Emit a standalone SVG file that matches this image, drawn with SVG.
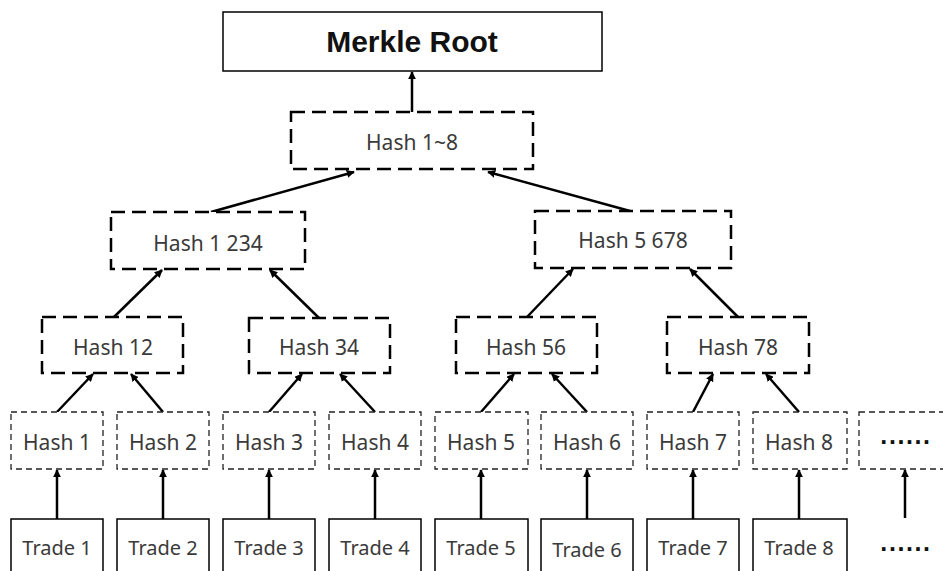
<svg xmlns="http://www.w3.org/2000/svg" width="943" height="571" viewBox="0 0 943 571">
<defs>
<marker id="ah" viewBox="0 0 10 10" refX="9" refY="5" markerWidth="3.2" markerHeight="3.2" markerUnits="strokeWidth" orient="auto">
<path d="M0,0 L10,5 L0,10 z" fill="#000"/>
</marker>
<style>
.big{fill:#fff;stroke:#000;stroke-width:2.5;stroke-dasharray:14 7}
.leaf{fill:#fff;stroke:#222;stroke-width:1.3;stroke-dasharray:6 4}
.solid{fill:#fff;stroke:#000;stroke-width:1.5}
.t{font-family:"Noto Sans","Liberation Sans",sans-serif;font-weight:400;fill:#3a3a3a;text-anchor:middle}
.h{font-size:21px}
.tr{font-size:20px}
.dots{font-family:"Liberation Sans",sans-serif;font-weight:bold;font-size:25px;fill:#111;text-anchor:middle;letter-spacing:1.6px}
.c{stroke:#000;stroke-width:2.5;fill:none;marker-end:url(#ah)}
</style>
</defs>
<rect width="943" height="571" fill="#fff"/>
<g id="connectors">
<line class="c" x1="412" y1="112" x2="412" y2="72"/>
<line class="c" x1="211" y1="212" x2="354" y2="172"/>
<line class="c" x1="630" y1="211" x2="488" y2="172"/>
<line class="c" x1="114" y1="317" x2="162" y2="270"/>
<line class="c" x1="319" y1="318" x2="270" y2="270"/>
<line class="c" x1="527" y1="317" x2="573" y2="269"/>
<line class="c" x1="738" y1="317" x2="690" y2="269"/>
<line class="c" x1="57" y1="412" x2="93" y2="374"/>
<line class="c" x1="163" y1="412" x2="131" y2="374"/>
<line class="c" x1="269" y1="412" x2="302" y2="374"/>
<line class="c" x1="375" y1="412" x2="340" y2="374"/>
<line class="c" x1="481" y1="412" x2="514" y2="374"/>
<line class="c" x1="587" y1="412" x2="552" y2="374"/>
<line class="c" x1="693" y1="412" x2="713" y2="374"/>
<line class="c" x1="799" y1="412" x2="766" y2="374"/>
<line class="c" x1="57" y1="519" x2="57" y2="470"/>
<line class="c" x1="163" y1="519" x2="163" y2="470"/>
<line class="c" x1="269" y1="519" x2="269" y2="470"/>
<line class="c" x1="375" y1="519" x2="375" y2="470"/>
<line class="c" x1="481" y1="519" x2="481" y2="470"/>
<line class="c" x1="587" y1="519" x2="587" y2="470"/>
<line class="c" x1="693" y1="519" x2="693" y2="470"/>
<line class="c" x1="799" y1="519" x2="799" y2="470"/>
<line class="c" x1="905" y1="518" x2="905" y2="470"/>
</g>
<g id="merkle-root">
<rect class="solid" x="223" y="12" width="379" height="59"/>
<text x="412" y="52" font-family="'Liberation Sans',sans-serif" font-weight="bold" font-size="30" fill="#111" text-anchor="middle">Merkle Root</text>
</g>
<g id="hash-1-8">
<rect class="big" x="291" y="112" width="242" height="57"/>
<text class="t h" x="412" y="150">Hash 1~8</text>
</g>
<g id="hash-1234">
<rect class="big" x="111" y="212" width="194" height="57"/>
<text class="t h" x="208" y="251">Hash 1 234</text>
</g>
<g id="hash-5678">
<rect class="big" x="535" y="211" width="196" height="57"/>
<text class="t h" x="633" y="248">Hash 5 678</text>
</g>
<g id="hash-12">
<rect class="big" x="42" y="317" width="141" height="56"/>
<text class="t h" x="113" y="355">Hash 12</text>
</g>
<g id="hash-34">
<rect class="big" x="249" y="318" width="141" height="55"/>
<text class="t h" x="319" y="355">Hash 34</text>
</g>
<g id="hash-56">
<rect class="big" x="456" y="317" width="141" height="56"/>
<text class="t h" x="526" y="355">Hash 56</text>
</g>
<g id="hash-78">
<rect class="big" x="667" y="317" width="142" height="56"/>
<text class="t h" x="738" y="355">Hash 78</text>
</g>
<g id="hash-1"><rect class="leaf" x="11" y="412" width="92" height="57"/><text class="t h" x="57" y="450">Hash 1</text></g>
<g id="hash-2"><rect class="leaf" x="117" y="412" width="92" height="57"/><text class="t h" x="163" y="450">Hash 2</text></g>
<g id="hash-3"><rect class="leaf" x="223" y="412" width="92" height="57"/><text class="t h" x="269" y="450">Hash 3</text></g>
<g id="hash-4"><rect class="leaf" x="329" y="412" width="92" height="57"/><text class="t h" x="375" y="450">Hash 4</text></g>
<g id="hash-5"><rect class="leaf" x="435" y="412" width="93" height="57"/><text class="t h" x="481" y="450">Hash 5</text></g>
<g id="hash-6"><rect class="leaf" x="541" y="412" width="92" height="57"/><text class="t h" x="587" y="450">Hash 6</text></g>
<g id="hash-7"><rect class="leaf" x="647" y="412" width="92" height="57"/><text class="t h" x="693" y="450">Hash 7</text></g>
<g id="hash-8"><rect class="leaf" x="753" y="412" width="94" height="57"/><text class="t h" x="799" y="450">Hash 8</text></g>
<g id="hash-more"><rect class="leaf" x="859" y="412" width="100" height="57"/><text class="dots" x="906" y="444">......</text></g>
<g id="trade-1"><rect class="solid" x="11" y="519" width="92" height="70"/><text class="t tr" x="57" y="555">Trade 1</text></g>
<g id="trade-2"><rect class="solid" x="117" y="519" width="92" height="70"/><text class="t tr" x="163" y="555">Trade 2</text></g>
<g id="trade-3"><rect class="solid" x="223" y="519" width="92" height="70"/><text class="t tr" x="269" y="555">Trade 3</text></g>
<g id="trade-4"><rect class="solid" x="329" y="519" width="92" height="70"/><text class="t tr" x="375" y="555">Trade 4</text></g>
<g id="trade-5"><rect class="solid" x="435" y="519" width="93" height="70"/><text class="t tr" x="481" y="555">Trade 5</text></g>
<g id="trade-6"><rect class="solid" x="541" y="519" width="92" height="70"/><text class="t tr" x="587" y="557">Trade 6</text></g>
<g id="trade-7"><rect class="solid" x="647" y="519" width="92" height="70"/><text class="t tr" x="693" y="555">Trade 7</text></g>
<g id="trade-8"><rect class="solid" x="753" y="519" width="94" height="70"/><text class="t tr" x="799" y="555">Trade 8</text></g>
<g id="trade-more"><text class="dots" x="906" y="551">......</text></g>
</svg>
